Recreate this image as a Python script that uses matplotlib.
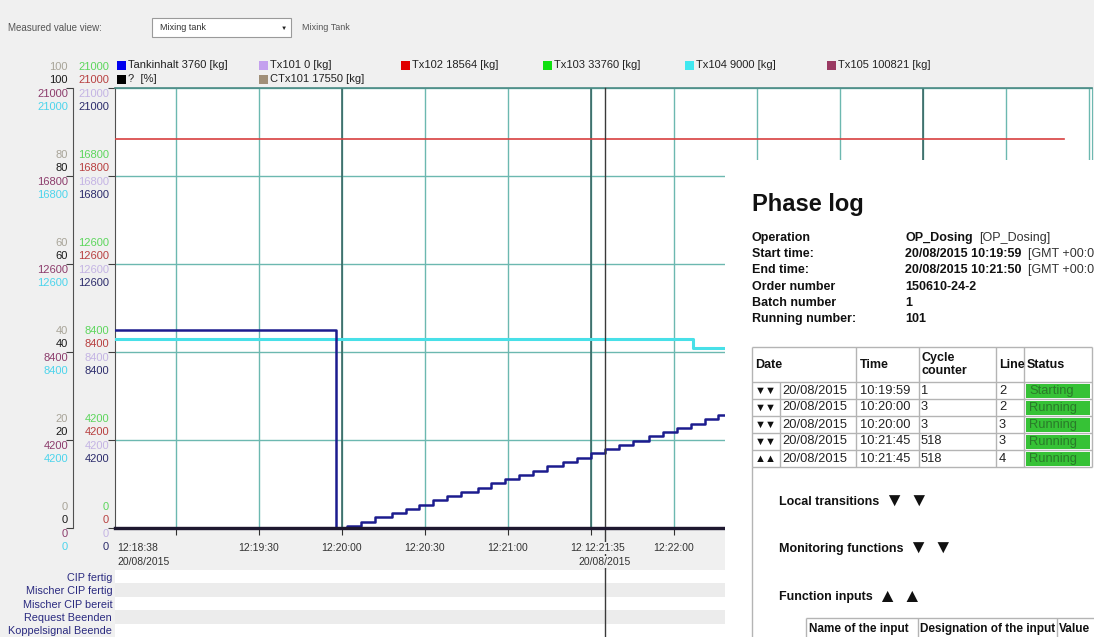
import matplotlib
matplotlib.use('Agg')
import matplotlib.pyplot as plt
import matplotlib.transforms as mtransforms
from matplotlib.patches import Rectangle
import pandas as pd

plt.rcParams['font.family'] = ['Liberation Sans', 'DejaVu Sans']

# ---------------- data ----------------
DAY = '2015-08-20 '
x_start = '12:18:38'
x_end = '12:24:31'
cursor_time = '12:21:35'
cursor_label = '12:21:35'
date_label = '20/08/2015'

tank_times = ['12:18:38', '12:19:58', '12:20:02', '12:20:07', '12:20:12', '12:20:18',
              '12:20:23', '12:20:28', '12:20:33', '12:20:38', '12:20:43', '12:20:49',
              '12:20:54', '12:20:59', '12:21:04', '12:21:09', '12:21:14', '12:21:20',
              '12:21:25', '12:21:30', '12:21:35', '12:21:40', '12:21:45', '12:21:51',
              '12:21:56', '12:22:01', '12:22:06', '12:22:11', '12:22:16', '12:22:22',
              '12:22:30']
tank_values = [9450, 0, 100, 300, 510, 710, 910, 1120, 1320, 1520, 1730, 1930,
               2130, 2340, 2540, 2740, 2950, 3150, 3350, 3560, 3760, 3960, 4170,
               4370, 4570, 4780, 4980, 5180, 5390, 5590, 5590]

tx102_times = ['12:18:38', '12:24:21']
tx102_values = [18564, 18564]

tx104_times = ['12:18:38', '12:22:07', '12:24:31']
tx104_values = [9000, 8600, 8600]

pct_times = ['12:18:38', '12:24:31']
pct_values = [0, 0]

legend_row1 = [('Tankinhalt 3760 [kg]', '#0000ee'), ('Tx101 0 [kg]', '#c4a0ee'),
               ('Tx102 18564 [kg]', '#e00000'), ('Tx103 33760 [kg]', '#10e010'),
               ('Tx104 9000 [kg]', '#40e8f0'), ('Tx105 100821 [kg]', '#9a3a62')]
legend_row2 = [('?  [%]', '#000000'), ('CTx101 17550 [kg]', '#a08f78')]

kg_ticks = [0, 4200, 8400, 12600, 16800, 21000]
pct_ticks = [0, 20, 40, 60, 80, 100]

time_ticks = ['12:19:00', '12:19:30', '12:20:00', '12:20:30', '12:21:00', '12:21:30',
              '12:22:00', '12:22:30', '12:23:00', '12:23:30', '12:24:00', '12:24:30']
time_tick_labels = ['', '12:19:30', '12:20:00', '12:20:30', '12:21:00', '12:21:30',
                    '12:22:00', '', '', '', '', '']
dark_grid_times = ['12:20:00', '12:21:30', '12:23:30']

signal_names = ['CIP fertig', 'Mischer CIP fertig', 'Mischer CIP bereit',
                'Request Beenden', 'Koppelsignal Beende']

phase_fields = ['Operation', 'Start time:', 'End time:', 'Order number',
                'Batch number', 'Running number:']
phase_values = ['OP_Dosing', '20/08/2015 10:19:59', '20/08/2015 10:21:50',
                '150610-24-2', '1', '101']
phase_extra = ['[OP_Dosing]', '[GMT +00:00]', '[GMT +00:00]', '', '', '']

log_headers = ['Date', 'Time', 'Cycle\ncounter', 'Line', 'Status']
log_arrows = ['\u25bc\u25bc', '\u25bc\u25bc', '\u25bc\u25bc', '\u25bc\u25bc', '\u25b2\u25b2']
log_dates = ['20/08/2015', '20/08/2015', '20/08/2015', '20/08/2015', '20/08/2015']
log_times = ['10:19:59', '10:20:00', '10:20:00', '10:21:45', '10:21:45']
log_cycles = ['1', '3', '3', '518', '518']
log_lines = ['2', '2', '3', '3', '4']
log_status = ['Starting', 'Running', 'Running', 'Running', 'Running']

sections = ['Local transitions', 'Monitoring functions', 'Function inputs']
section_marks = ['\u25bc \u25bc', '\u25bc \u25bc', '\u25b2 \u25b2']
input_headers = ['Name of the input', 'Designation of the input', 'Value']

# ---------------- helpers ----------------
W, H = 1094, 637
def T(s):
    return pd.Timestamp(DAY + s)
def TT(lst):
    return pd.to_datetime([DAY + s for s in lst])
def fx(px):
    return px / W
def fy(py):
    return 1 - py / H

BG = '#f0f0f0'
GRID = '#6cb8b0'
fig = plt.figure(figsize=(W / 100, H / 100), dpi=100, facecolor=BG)

def off(trans, dx, dy):
    return mtransforms.offset_copy(trans, fig=fig, x=dx, y=dy, units='dots')

# ---------------- header ----------------
fig.text(fx(8), fy(28), 'Measured value view:', fontsize=7, color='#555555', va='center')
fig.add_artist(Rectangle((fx(152), fy(37)), 139 / W, 19 / H, transform=fig.transFigure,
                         facecolor='white', edgecolor='#9a9a9a', lw=0.8))
fig.text(fx(160), fy(28), 'Mixing tank', fontsize=6.5, color='#333333', va='center')
fig.text(fx(284), fy(28), '\u25bc', fontsize=4.5, color='#222222', va='center', ha='center')
fig.text(fx(302), fy(28), 'Mixing Tank', fontsize=6.5, color='#555555', va='center')

# legend
for row, ycen in ((legend_row1, 65), (legend_row2, 79)):
    for i, (lab, col) in enumerate(row):
        x0 = 117 + i * 142
        fig.add_artist(Rectangle((fx(x0), fy(ycen + 4.5)), 8.5 / W, 8.5 / H,
                                 transform=fig.transFigure, facecolor=col, edgecolor='none'))
        fig.text(fx(x0 + 11), fy(ycen), lab, fontsize=8, color='#222222', va='center')

# ---------------- main chart ----------------
ax = fig.add_axes([fx(115), fy(528), (1092 - 115) / W, (528 - 88) / H])
ax.set_facecolor('white')
ax.set_xlim(T(x_start), T(x_end))
ax.set_ylim(0, 21000)
ax.set_xticks(TT(time_ticks))
ax.set_xticklabels(time_tick_labels)
ax.set_yticks(kg_ticks)
ax.grid(True, color=GRID, lw=1, zorder=0)
ax.set_axisbelow(True)
ax.tick_params(axis='y', direction='out', length=5, color='#404040', labelleft=False)
ax.tick_params(axis='x', direction='out', length=5, color='#303030', labelsize=7.5,
               labelcolor='#333333', pad=5.5)
ax.spines['left'].set_color('#505050')
ax.spines['bottom'].set_color('#2b2340')
ax.spines['bottom'].set_linewidth(2.2)
ax.spines['top'].set_color('#4a8a84')
ax.spines['top'].set_linewidth(1.2)
ax.spines['right'].set_color(GRID)

for t in dark_grid_times:
    ax.axvline(T(t), color='#2f605c', lw=1.1, zorder=1)

ax.plot(TT(tx102_times), tx102_values, color='#d84040', lw=1.2, zorder=3)
ax.plot(TT(tx104_times), tx104_values, drawstyle='steps-post', color='#48e0e8', lw=2.2, zorder=3)
ax.plot(TT(tank_times), tank_values, drawstyle='steps-post', color='#1c1c8e', lw=1.8, zorder=4)

# percent axis
ax2 = ax.twinx()
ax2.set_ylim(0, 100)
ax2.yaxis.set_ticks_position('left')
ax2.spines['left'].set_visible(True)
ax2.spines['left'].set_position(('outward', 42 * 0.72))
ax2.spines['left'].set_color('#505050')
for s in ('right', 'top', 'bottom'):
    ax2.spines[s].set_visible(False)
ax2.set_yticks(pct_ticks)
ax2.tick_params(axis='y', direction='out', length=5, color='#404040', labelleft=False,
                labelright=False)
ax2.plot(TT(pct_times), pct_values, color='#1e1830', lw=2.4, clip_on=False, zorder=5)

# y labels (multi-colour columns)
ytr = ax.get_yaxis_transform()
ytr2 = ax2.get_yaxis_transform()
col1_dx, col2_dx = -47, -6
row_dy = [21, 8, -6, -19]
kg_col2_colors = ['#5cd65c', '#b84040', '#c4b4e4', '#2c2c6c']
kg_col1_colors = ['#8c3c6c', '#4cd4ec']
pct_colors = ['#a8a498', '#1a1a1a']
for vk, vp in zip(kg_ticks, pct_ticks):
    for r in range(4):
        ax.text(0, vk, str(vk), transform=off(ytr, col2_dx, row_dy[r]), ha='right',
                va='center', fontsize=8, color=kg_col2_colors[r], clip_on=False)
    for r in range(2):
        ax2.text(0, vp, str(vp), transform=off(ytr2, col1_dx, row_dy[r]), ha='right',
                 va='center', fontsize=8, color=pct_colors[r], clip_on=False)
        ax.text(0, vk, str(vk), transform=off(ytr, col1_dx, row_dy[r + 2]), ha='right',
                va='center', fontsize=8, color=kg_col1_colors[r], clip_on=False)

# first time label
xtr = ax.get_xaxis_transform()
ax.text(T(x_start), 0, x_start, transform=off(xtr, 2, -20), ha='left', va='center',
        fontsize=7.5, color='#333333', clip_on=False)
ax.text(T(x_start), 0, date_label, transform=off(xtr, 2, -34), ha='left', va='center',
        fontsize=7.5, color='#333333', clip_on=False)

# cursor
blend = mtransforms.blended_transform_factory(ax.transData, fig.transFigure)
ax.plot([T(cursor_time), T(cursor_time)], [0, fy(88)], transform=blend, color='#3a3a3a',
        lw=1, clip_on=False, zorder=6)
ax.text(T(cursor_time), 0, cursor_label, transform=off(xtr, 0, -20), ha='center',
        va='center', fontsize=7.5, color='#333333', clip_on=False, zorder=8,
        bbox=dict(facecolor=BG, edgecolor='none', pad=1))
ax.text(T(cursor_time), 0, date_label, transform=off(xtr, 0, -34), ha='center',
        va='center', fontsize=7.5, color='#333333', clip_on=False, zorder=8,
        bbox=dict(facecolor=BG, edgecolor='none', pad=0.5))

# ---------------- binary signal rows ----------------
sax = fig.add_axes([fx(115), fy(637), (1092 - 115) / W, (637 - 570) / H])
sax.set_facecolor('white')
sax.set_xlim(T(x_start), T(x_end))
sax.set_ylim(len(signal_names), 0)
for i in range(len(signal_names)):
    if i % 2 == 1:
        sax.axhspan(i, i + 1, color='#ececec', lw=0)
sax.set_yticks([i + 0.5 for i in range(len(signal_names))])
sax.set_yticklabels(signal_names)
sax.tick_params(axis='y', length=0, pad=2, labelsize=7.8, labelcolor='#2a2a80')
sax.tick_params(axis='x', bottom=False, labelbottom=False)
for s in sax.spines.values():
    s.set_visible(False)
sax.axvline(T(cursor_time), color='#3a3a3a', lw=1)

# ---------------- phase log panel ----------------
pax = fig.add_axes([fx(725), 0, (1094 - 725) / W, (637 - 160) / H])
pax.set_facecolor('white')
pax.set_xlim(725, 1094)
pax.set_ylim(637, 160)
pax.set_xticks([])
pax.set_yticks([])
for s in pax.spines.values():
    s.set_visible(False)

TXT = '#111111'
pax.text(752, 204, 'Phase log', fontsize=17, fontweight='bold', va='center', color=TXT)
for i, (f, v, e) in enumerate(zip(phase_fields, phase_values, phase_extra)):
    y = 238 + i * 16.2
    pax.text(752, y, f, fontsize=9, fontweight='bold', va='center', color=TXT)
    tv = pax.text(905, y, v, fontsize=9, fontweight='bold', va='center', color=TXT)
    if e:
        pax.annotate(e, xy=(1, 0.5), xycoords=tv, xytext=(5, 0), textcoords='offset points',
                     va='center', fontsize=9, color='#333333')

# table
LC = '#b4b4b4'
t_top, h_bot, row_h = 347, 382, 17
n = len(log_dates)
t_bot = h_bot + n * row_h
col_x = [752, 856, 919, 996, 1024, 1092]
pax.hlines([t_top, h_bot] + [h_bot + (k + 1) * row_h for k in range(n)], 752, 1092,
           color=LC, lw=1)
pax.vlines(col_x, t_top, t_bot, color=LC, lw=1)
pax.vlines([780], h_bot, t_bot, color=LC, lw=1)
pax.vlines([752], t_bot, 637, color=LC, lw=1)
hx = [755, 860, 921, 999, 1027]
for x, h in zip(hx, log_headers):
    pax.text(x, (t_top + h_bot) / 2, h, fontsize=9, fontweight='bold', va='center',
             color=TXT, linespacing=1.0)
for k in range(n):
    yc = h_bot + k * row_h + row_h / 2
    pax.text(755, yc, log_arrows[k], fontsize=8, va='center', color=TXT)
    pax.text(782, yc, log_dates[k], fontsize=9.3, va='center', color='#222222')
    pax.text(860, yc, log_times[k], fontsize=9.3, va='center', color='#222222')
    pax.text(921, yc, log_cycles[k], fontsize=9.3, va='center', color='#222222')
    pax.text(999, yc, log_lines[k], fontsize=9.3, va='center', color='#222222')
    pax.add_patch(Rectangle((1026, h_bot + k * row_h + 2), 64, row_h - 3,
                            facecolor='#36c236', edgecolor='none'))
    pax.text(1029, yc + 0.5, log_status[k], fontsize=9.3, va='center', color='#2a7a2a')

for y, s, m in zip([502, 549, 597], sections, section_marks):
    ts = pax.text(779, y, s, fontsize=9, fontweight='bold', va='center', color=TXT)
    pax.annotate(m, xy=(1, 0.5), xycoords=ts, xytext=(4, 0), textcoords='offset points',
                 va='center', fontsize=14, color=TXT)

# function inputs sub-table
pax.hlines([618], 806, 1094, color=LC, lw=1)
pax.vlines([806, 918, 1057], 618, 637, color=LC, lw=1)
for x, h in zip([809, 920, 1059], input_headers):
    pax.text(x, 629, h, fontsize=8.5, fontweight='bold', va='center', color=TXT)

fig.savefig('out.png', dpi=100, facecolor=BG)
